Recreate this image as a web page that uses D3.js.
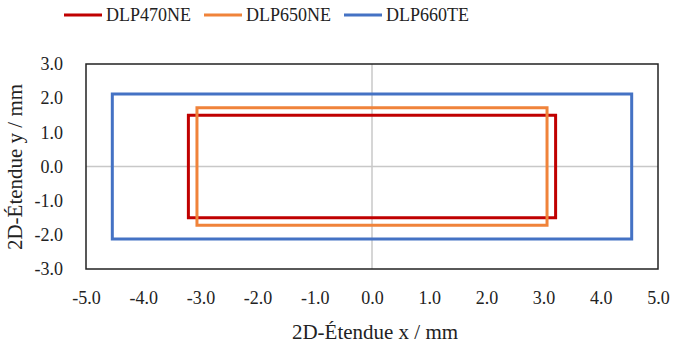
<!DOCTYPE html>
<html>
<head>
<meta charset="utf-8">
<script src="https://cdn.jsdelivr.net/npm/d3@7"></script>
<style>
  body { margin: 0; background: #fff; }
</style>
</head>
<body>
<div id="chart"></div>
<script>
// series: half-widths and half-heights of each rectangle (mm)
const seriesNames = ["DLP470NE", "DLP650NE", "DLP660TE"];
const seriesColors = ["#c00000", "#f0833a", "#4472c4"];
const halfX = [3.21, 3.06, 4.54];
const halfY = [1.50, 1.72, 2.12];

const xTicks = [-5, -4, -3, -2, -1, 0, 1, 2, 3, 4, 5];
const yTicks = [-3, -2, -1, 0, 1, 2, 3];

const width = 673;
const height = 344;
const margin = { top: 64, right: 15, bottom: 75, left: 86 };
const font = "'Liberation Serif', 'DejaVu Serif', serif";

// hyphen instead of unicode minus, like the original
const fmt = d => d.toFixed(1);

const svg = d3.select("#chart")
    .append("svg")
    .attr("width", width)
    .attr("height", height);

const xScale = d3.scaleLinear()
    .domain([-5, 5])
    .range([margin.left, width - margin.right]);

const yScale = d3.scaleLinear()
    .domain([-3, 3])
    .range([height - margin.bottom, margin.top]);

// zero lines
svg.append("line")
    .attr("x1", xScale(0)).attr("x2", xScale(0))
    .attr("y1", yScale(3)).attr("y2", yScale(-3))
    .attr("stroke", "#c8c8c8").attr("stroke-width", 1.5);
svg.append("line")
    .attr("x1", xScale(-5)).attr("x2", xScale(5))
    .attr("y1", yScale(0)).attr("y2", yScale(0))
    .attr("stroke", "#c8c8c8").attr("stroke-width", 1.5);

// frame
svg.append("rect")
    .attr("x", xScale(-5))
    .attr("y", yScale(3))
    .attr("width", xScale(5) - xScale(-5))
    .attr("height", yScale(-3) - yScale(3))
    .attr("fill", "none")
    .attr("stroke", "#222")
    .attr("stroke-width", 1.5);

// axes (labels only)
const xAxis = svg.append("g")
    .attr("transform", `translate(0,${yScale(-3) + 19})`)
    .call(d3.axisBottom(xScale).tickValues(xTicks).tickFormat(fmt).tickSize(0));
xAxis.select(".domain").remove();

const yAxis = svg.append("g")
    .attr("transform", `translate(${xScale(-5) - 20},0)`)
    .call(d3.axisLeft(yScale).tickValues(yTicks).tickFormat(fmt).tickSize(0));
yAxis.select(".domain").remove();

// rectangles
const line = d3.line()
    .x(d => xScale(d[0]))
    .y(d => yScale(d[1]));

seriesNames.forEach((name, i) => {
    const pts = [
        [-halfX[i], halfY[i]],
        [halfX[i], halfY[i]],
        [halfX[i], -halfY[i]],
        [-halfX[i], -halfY[i]]
    ];
    svg.append("path")
        .attr("d", line(pts) + "Z")
        .attr("fill", "none")
        .attr("stroke", seriesColors[i])
        .attr("stroke-width", 3);
});

// legend
const legendX = [64, 204, 344];
seriesNames.forEach((name, i) => {
    const g = svg.append("g").attr("transform", `translate(${legendX[i]},15)`);
    g.append("line")
        .attr("x1", 0).attr("x2", 38)
        .attr("stroke", seriesColors[i])
        .attr("stroke-width", 3);
    g.append("text")
        .attr("x", 42)
        .attr("dy", "0.35em")
        .text(name);
});

// one font for all text
svg.selectAll("text")
    .style("font-family", font)
    .style("font-size", "18px")
    .style("fill", "#222");

// axis titles
svg.append("text")
    .attr("x", 375)
    .attr("y", 339)
    .attr("text-anchor", "middle")
    .style("font-family", font)
    .style("font-size", "21px")
    .style("fill", "#222")
    .text("2D-Étendue x / mm");

svg.append("text")
    .attr("transform", "rotate(-90)")
    .attr("x", -167)
    .attr("y", 22)
    .attr("text-anchor", "middle")
    .style("font-family", font)
    .style("font-size", "21px")
    .style("fill", "#222")
    .text("2D-Étendue y / mm");
</script>
</body>
</html>
